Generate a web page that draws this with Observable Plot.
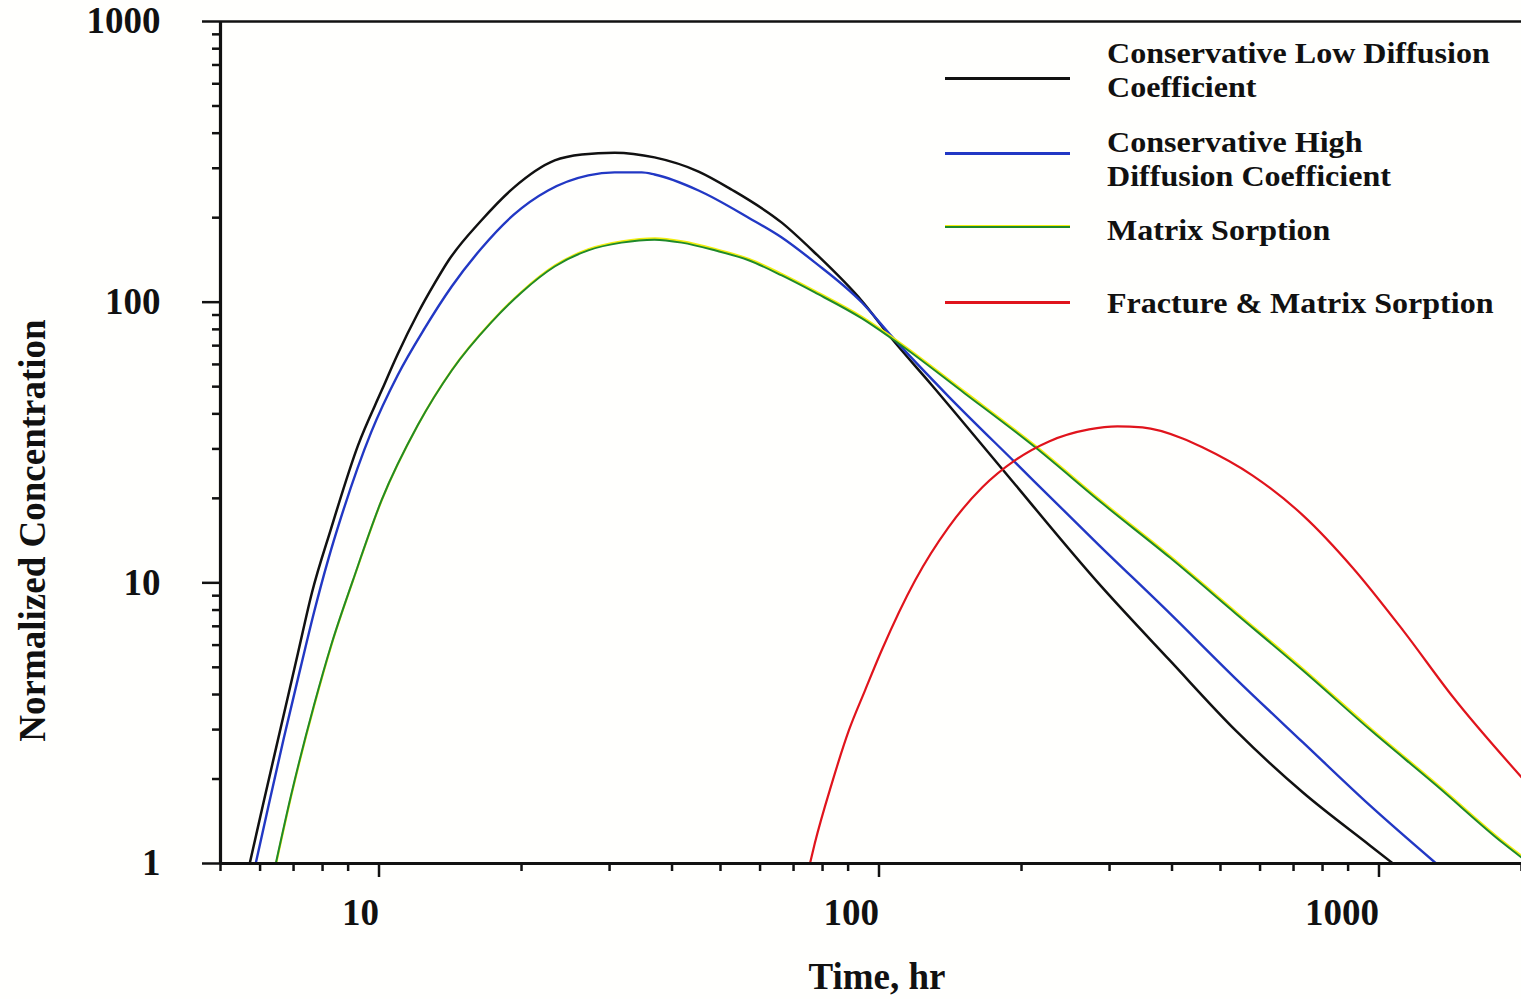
<!DOCTYPE html>
<html>
<head>
<meta charset="utf-8">
<script src="https://cdn.jsdelivr.net/npm/d3@7"></script>
<script src="https://cdn.jsdelivr.net/npm/@observablehq/plot@0.6"></script>
<style>
  html, body { margin: 0; padding: 0; background: #fffffd; overflow: hidden; }
  #wrap { position: relative; width: 1521px; height: 999px; }
  #legend { position: absolute; left: 0; top: 0; width: 1521px; height: 999px; pointer-events: none;
            font-family: "Liberation Serif", "Times New Roman", serif; font-weight: bold; font-size: 29px; color: #111; }
  .sw { position: absolute; left: 945px; width: 125px; height: 0; }
  .lt { position: absolute; left: 1107px; line-height: 34px; white-space: nowrap;
        transform: scaleX(1.105); transform-origin: 0 0; }
</style>
</head>
<body>
<div id="wrap"><div id="chart"></div><div id="legend"></div></div>
<script>
// ---------- data ----------
const seriesNames = [
  "Conservative Low Diffusion Coefficient",
  "Conservative High Diffusion Coefficient",
  "Matrix Sorption",
  "Fracture & Matrix Sorption"
];
const legendLines = [
  ["Conservative Low Diffusion", "Coefficient"],
  ["Conservative High", "Diffusion Coefficient"],
  ["Matrix Sorption"],
  ["Fracture & Matrix Sorption"]
];

// Time (hr) and normalized concentration for each series
const lowDiffT = [5.72, 6.10, 6.60, 7.14, 7.62, 8.32, 9.42, 10.5, 11.3, 12.4, 13.4, 14.3, 16.6, 19.3, 23.3, 26.4, 30.7, 36.9, 45.2, 52.6, 66.3, 77.2, 95.9, 110, 132.5, 180.5, 290, 396, 536, 731, 995, 1107];
const lowDiffC = [1.0, 1.66, 3.05, 5.60, 9.24, 15.6, 30.9, 48.4, 65.1, 91.1, 116.6, 141, 195, 256, 320, 336, 341, 328, 292, 252, 192, 150, 101, 74.2, 50.5, 26.2, 9.63, 5.29, 2.98, 1.79, 1.16, 1.0];

const highDiffT = [5.88, 6.22, 6.69, 7.24, 7.69, 8.20, 8.71, 10.0, 11.3, 12.8, 14.5, 16.6, 19.3, 22.6, 27.2, 30.7, 34.8, 36.9, 45.2, 56.9, 66.3, 77.2, 95.9, 110, 143, 194, 286, 396, 536, 731, 995, 1350];
const highDiffC = [1.0, 1.57, 2.79, 5.04, 7.84, 12.0, 17.1, 34.3, 54.8, 80.6, 113.7, 155, 205, 250, 283, 290, 290, 285, 250, 200, 170, 138.6, 99.7, 75.5, 46.1, 26.9, 13.6, 7.78, 4.56, 2.70, 1.61, 1.0];

const matrixT = [6.45, 6.92, 7.69, 8.32, 9.20, 10.5, 12.4, 14.5, 17.4, 20.0, 23.3, 27.2, 31.7, 36.9, 41.8, 48.7, 56.9, 66.3, 77.2, 95.9, 110, 154, 213, 290, 396, 536, 731, 995, 1350, 1839, 2000];
const matrixC = [1.0, 1.75, 3.66, 5.98, 10.2, 19.7, 36.4, 57.1, 84.7, 108.3, 134, 153, 163, 167, 163, 153, 141, 124.5, 108.3, 87.5, 74.2, 47.3, 30.4, 19.2, 12.3, 7.78, 4.87, 3.0, 1.90, 1.18, 1.05];

const fractureT = [75.5, 77.2, 83.5, 90.3, 97.3, 105, 122.5, 143, 167, 194, 227, 273, 311, 349, 420, 460, 580, 731, 920, 1159, 1460, 2000];
const fractureC = [1.0, 1.18, 1.93, 2.98, 4.14, 5.74, 10.2, 15.8, 21.9, 27.3, 31.9, 35.2, 36.1, 35.8, 32.7, 30.4, 24.1, 17.4, 11.3, 6.77, 3.91, 2.03];

// axis ticks and titles
const xMajorTicks = [10, 100, 1000];
const xMinorTicks = [5, 6, 7, 8, 9, 20, 30, 40, 50, 60, 70, 80, 90, 200, 300, 400, 500, 600, 700, 800, 900, 2000];
const yMajorTicks = [1, 10, 100, 1000];
const yMinorTicks = [2, 3, 4, 5, 6, 7, 8, 9, 20, 30, 40, 50, 60, 70, 80, 90, 200, 300, 400, 500, 600, 700, 800, 900];
const xTitle = "Time, hr";
const yTitle = "Normalized Concentration";

// ---------- build ----------
const rows = (name, ts, cs) => ts.map((t, i) => ({series: name, t, c: cs[i]}));
const lowDiff = rows(seriesNames[0], lowDiffT, lowDiffC);
const highDiff = rows(seriesNames[1], highDiffT, highDiffC);
const matrix = rows(seriesNames[2], matrixT, matrixC);
const fracture = rows(seriesNames[3], fractureT, fractureC);

const colors = ["#111111", "#2238c4", "#1f8a2a", "#e0141c"];
const curve = "monotone-x";

const chart = Plot.plot({
  width: 1521,
  height: 999,
  marginLeft: 220,
  marginRight: 0,
  marginTop: 21,
  marginBottom: 136,
  x: {type: "log", domain: [5, 2000]},
  y: {type: "log", domain: [1, 1000]},
  style: {
    fontFamily: "'Liberation Serif', 'Times New Roman', serif",
    fontWeight: "bold",
    fontSize: "37px",
    background: "#fffffd",
    color: "#111"
  },
  marks: [
    // minor ticks
    Plot.axisX(xMinorTicks, {tickSize: 8, strokeWidth: 2.5, tickFormat: () => "", label: null}),
    Plot.axisY(yMinorTicks, {tickSize: 8, strokeWidth: 2.5, tickFormat: () => "", label: null}),
    // major ticks with labels
    Plot.axisX(xMajorTicks, {
      tickSize: 14, tickPadding: 21, strokeWidth: 2.5,
      tickFormat: d => String(d), textAnchor: "end", dx: 8, label: null
    }),
    Plot.axisY(yMajorTicks, {
      tickSize: 18, tickPadding: 42, strokeWidth: 2.5,
      tickFormat: d => String(d), label: null
    }),
    // axis titles
    Plot.text([xTitle], {text: d => d, frameAnchor: "bottom", textAnchor: "middle", lineAnchor: "bottom", dx: 6, dy: 125, fontSize: 37}),
    Plot.text([yTitle], {text: d => d, frameAnchor: "left", textAnchor: "middle", lineAnchor: "middle", rotate: -90, dx: -187, dy: 88, fontSize: 37}),
    // top frame line
    Plot.ruleY([1000], {stroke: "#111", strokeWidth: 2.5}),
    // curves
    Plot.line(lowDiff, {x: "t", y: "c", stroke: colors[0], strokeWidth: 2.5, curve, clip: true}),
    Plot.line(highDiff, {x: "t", y: "c", stroke: colors[1], strokeWidth: 2.4, curve, clip: true}),
    Plot.line(matrix, {x: "t", y: "c", stroke: "#f2ee10", strokeWidth: 2.2, dy: -1.2, dx: 0.6, curve, clip: true}),
    Plot.line(matrix, {x: "t", y: "c", stroke: colors[2], strokeWidth: 2.0, curve, clip: true}),
    Plot.line(fracture, {x: "t", y: "c", stroke: colors[3], strokeWidth: 2.2, curve, clip: true}),
    // axis lines
    Plot.ruleX([5], {stroke: "#111", strokeWidth: 3.2}),
    Plot.ruleY([1], {stroke: "#111", strokeWidth: 3.2})
  ]
});
document.getElementById("chart").appendChild(chart);

// ---------- legend (inside the plot area, top right) ----------
const swatchY = [78, 153, 226, 302];
const textTop = [36, 125, 213, 286];
const legend = document.getElementById("legend");
seriesNames.forEach((name, i) => {
  const sw = document.createElement("div");
  sw.className = "sw";
  sw.style.top = (swatchY[i] - 1.5) + "px";
  if (i === 2) {
    sw.style.borderTop = "1.5px solid #f2ee10";
    sw.style.borderBottom = "2px solid " + colors[i];
  } else {
    sw.style.borderTop = "3px solid " + colors[i];
  }
  legend.appendChild(sw);
  const tx = document.createElement("div");
  tx.className = "lt";
  tx.style.top = textTop[i] + "px";
  tx.innerHTML = legendLines[i].map(s => s.replace("&", "&amp;")).join("<br>");
  legend.appendChild(tx);
});
</script>
</body>
</html>
